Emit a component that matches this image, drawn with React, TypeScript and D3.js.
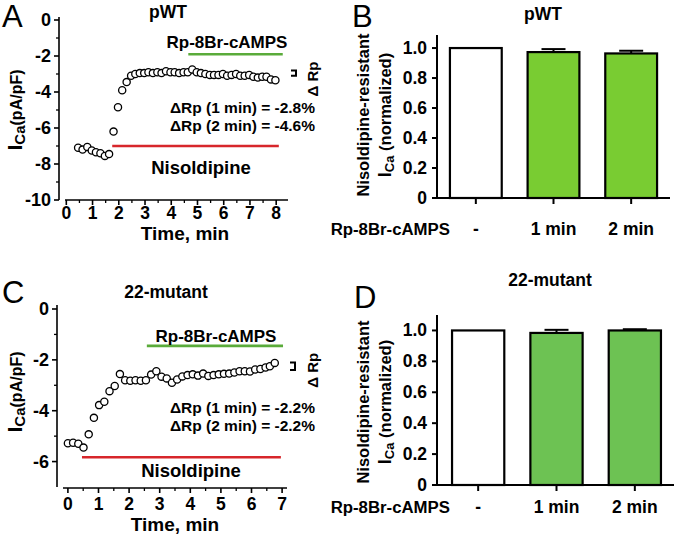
import React, { useEffect, useRef } from "react";
import * as d3 from "d3";

// ---------- DATA ----------
const timeA = [0.45, 0.62, 0.8, 0.97, 1.13, 1.3, 1.47, 1.63, 1.8, 1.97, 2.13, 2.3, 2.47, 2.63, 2.8, 2.97, 3.13, 3.3, 3.47, 3.63, 3.8, 3.97, 4.13, 4.3, 4.47, 4.63, 4.8, 4.97, 5.13, 5.3, 5.47, 5.63, 5.8, 5.97, 6.13, 6.3, 6.47, 6.63, 6.8, 6.97, 7.13, 7.3, 7.47, 7.63, 7.8, 7.97];
const currentA = [-7.1, -7.2, -7.05, -7.25, -7.35, -7.4, -7.55, -7.45, -6.2, -4.85, -3.9, -3.45, -3.1, -3.0, -2.95, -2.95, -2.9, -2.95, -2.9, -2.95, -2.85, -2.9, -2.9, -2.95, -2.9, -2.9, -2.75, -2.9, -2.95, -3.0, -3.05, -3.05, -3.05, -3.0, -3.1, -3.05, -3.0, -3.1, -3.1, -3.05, -3.15, -3.2, -3.15, -3.15, -3.3, -3.35];
const nisoA = [1.75, 8.1];
const nisoLevelA = -7.0;
const rpA = [4.65, 8.25];
const rpLevelA = -1.9;
const bracketA = [-2.8, -3.1];

const timeC = [0, 0.17, 0.34, 0.51, 0.68, 0.85, 1.02, 1.19, 1.36, 1.53, 1.7, 1.87, 2.04, 2.21, 2.38, 2.55, 2.72, 2.89, 3.06, 3.23, 3.4, 3.57, 3.74, 3.91, 4.08, 4.25, 4.42, 4.59, 4.76, 4.93, 5.1, 5.27, 5.44, 5.61, 5.78, 5.95, 6.12, 6.29, 6.46, 6.6, 6.76];
const currentC = [-5.28, -5.26, -5.3, -5.45, -4.93, -4.28, -3.78, -3.65, -3.23, -3.03, -2.56, -2.8, -2.82, -2.8, -2.82, -2.8, -2.58, -2.45, -2.66, -2.73, -2.9, -2.77, -2.65, -2.6, -2.57, -2.62, -2.54, -2.63, -2.6, -2.57, -2.55, -2.54, -2.5, -2.45, -2.45, -2.46, -2.38, -2.36, -2.3, -2.25, -2.12];
const nisoC = [0.46, 6.96];
const nisoLevelC = -5.83;
const rpC = [2.58, 7.03];
const rpLevelC = -1.45;
const bracketC = [-2.1, -2.4];

const categories = ["-", "1 min", "2 min"];
const pwtValues = [1.0, 0.973, 0.964];
const pwtErr = [0, 0.02, 0.018];
const mutValues = [1.0, 0.984, 1.0];
const mutErr = [0, 0.02, 0.008];

const xTicksA = [0, 1, 2, 3, 4, 5, 6, 7, 8];
const yTicksA = [0, -2, -4, -6, -8, -10];
const xTicksC = [0, 1, 2, 3, 4, 5, 6, 7];
const yTicksC = [0, -2, -4, -6];
const barTicks = [0, 0.2, 0.4, 0.6, 0.8, 1.0];

const textsA = ["\u0394Rp (1 min) = -2.8%", "\u0394Rp (2 min) = -4.6%"];
const textsC = ["\u0394Rp (1 min) = -2.2%", "\u0394Rp (2 min) = -2.2%"];

const FONT = "'Liberation Sans', Arial, Helvetica, sans-serif";
const RED = "#d7262b";
const GREEN = "#5aab3a";

type G = d3.Selection<SVGGElement, unknown, null, undefined>;

function txt(g: G, x: number, y: number, s: string, size: number, anchor = "middle", weight = "bold") {
  return g.append("text").attr("x", x).attr("y", y).attr("text-anchor", anchor)
    .attr("font-family", FONT).attr("font-size", size).attr("font-weight", weight).attr("fill", "#000").text(s);
}

function ylabelICa(g: G, x: number, y: number, rest: string) {
  const t = g.append("text").attr("transform", `translate(${x},${y}) rotate(-90)`)
    .attr("text-anchor", "middle").attr("font-family", FONT).attr("font-weight", "bold").attr("fill", "#000");
  t.append("tspan").attr("font-size", 21).text("I");
  t.append("tspan").attr("font-size", 15).attr("dy", 3).text("Ca");
  t.append("tspan").attr("font-size", 16).attr("dy", -3).text(rest);
  return t;
}

interface TraceCfg {
  time: number[]; cur: number[]; xDom: [number, number]; xRange: [number, number];
  yDom: [number, number]; yRange: [number, number]; yAxisX: number; xAxisY: number; yAxisTop: number;
  xTicks: number[]; yTicks: number[]; yMinor: number[]; xMax: number;
  niso: number[]; nisoLevel: number; rp: number[]; rpLevel: number; bracket: number[];
  texts: string[]; textY: number[]; nisoTextY: number; nisoTextX: number; rpTextX: number; rpTextY: number;
  title: string; titleX: number; titleY: number; letter: string; letterY: number;
  xTickLabelY: number; timeX: number; timeY: number; ylabX: number; ylabY: number; deltaY: number;
}

function drawTrace(root: G, c: TraceCfg) {
  const g = root.append("g");
  const x = d3.scaleLinear().domain(c.xDom).range(c.xRange);
  const y = d3.scaleLinear().domain(c.yDom).range(c.yRange);
  const stroke = "#000";
  // y axis
  g.append("line").attr("x1", c.yAxisX).attr("x2", c.yAxisX).attr("y1", c.yAxisTop).attr("y2", y(c.yDom[0])).attr("stroke", stroke).attr("stroke-width", 1.6);
  c.yTicks.forEach(v => {
    g.append("line").attr("x1", c.yAxisX - 5).attr("x2", c.yAxisX).attr("y1", y(v)).attr("y2", y(v)).attr("stroke", stroke).attr("stroke-width", 1.6);
    txt(g, c.yAxisX - 8, y(v) + 6, String(v), 18, "end");
  });
  c.yMinor.forEach(v => {
    g.append("line").attr("x1", c.yAxisX - 3).attr("x2", c.yAxisX).attr("y1", y(v)).attr("y2", y(v)).attr("stroke", stroke).attr("stroke-width", 1.3);
  });
  // x axis
  g.append("line").attr("x1", c.xRange[0]).attr("x2", c.xRange[1]).attr("y1", c.xAxisY).attr("y2", c.xAxisY).attr("stroke", stroke).attr("stroke-width", 1.6);
  c.xTicks.forEach(v => {
    g.append("line").attr("x1", x(v)).attr("x2", x(v)).attr("y1", c.xAxisY).attr("y2", c.xAxisY + 5).attr("stroke", stroke).attr("stroke-width", 1.6);
    txt(g, x(v), c.xTickLabelY, String(v), 17.5);
  });
  d3.range(0.5, c.xMax, 1).forEach(v => {
    g.append("line").attr("x1", x(v)).attr("x2", x(v)).attr("y1", c.xAxisY).attr("y2", c.xAxisY + 3).attr("stroke", stroke).attr("stroke-width", 1.3);
  });
  txt(g, c.timeX, c.timeY, "Time, min", 19);
  ylabelICa(g, c.ylabX, c.ylabY, "(pA/pF)");
  // lines
  g.append("line").attr("x1", x(c.niso[0])).attr("x2", x(c.niso[1])).attr("y1", y(c.nisoLevel)).attr("y2", y(c.nisoLevel)).attr("stroke", RED).attr("stroke-width", 2.6);
  g.append("line").attr("x1", x(c.rp[0])).attr("x2", x(c.rp[1])).attr("y1", y(c.rpLevel)).attr("y2", y(c.rpLevel)).attr("stroke", GREEN).attr("stroke-width", 2.6);
  // points
  g.selectAll("circle.pt").data(c.time.map((t, i) => [t, c.cur[i]])).enter().append("circle")
    .attr("cx", d => x(d[0])).attr("cy", d => y(d[1])).attr("r", 3.6)
    .attr("fill", "#fff").attr("stroke", "#000").attr("stroke-width", 1.3);
  // bracket
  const bx = c.xRange[1] + 3;
  const bp = d3.path();
  bp.moveTo(bx, y(c.bracket[0])); bp.lineTo(bx + 5, y(c.bracket[0])); bp.lineTo(bx + 5, y(c.bracket[1])); bp.lineTo(bx, y(c.bracket[1]));
  g.append("path").attr("d", bp.toString()).attr("fill", "none").attr("stroke", "#000").attr("stroke-width", 2);
  const my = (y(c.bracket[0]) + y(c.bracket[1])) / 2 + c.deltaY;
  g.append("text").attr("transform", `translate(318,${my}) rotate(-90)`).attr("text-anchor", "middle")
    .attr("font-family", FONT).attr("font-size", 15).attr("font-weight", "bold").text("\u0394 Rp");
  // texts
  c.texts.forEach((s, i) => txt(g, 315, c.textY[i], s, 15.5, "end"));
  txt(g, c.nisoTextX, c.nisoTextY, "Nisoldipine", 18.5);
  txt(g, c.rpTextX, c.rpTextY, "Rp-8Br-cAMPS", 17);
  txt(g, c.titleX, c.titleY, c.title, 17.5);
  txt(g, 2, c.letterY, c.letter, 31, "start", "normal");
}

interface BarCfg {
  values: number[]; errs: number[]; xRange: [number, number]; axisX: number; y0: number; yTop: number; yMax: number;
  color: string; title: string; titleX: number; titleY: number; letter: string; letterX: number; letterY: number;
  catY: number; ylabY: number;
}

function drawBars(root: G, c: BarCfg) {
  const g = root.append("g");
  const x = d3.scaleBand<string>().domain(categories).range(c.xRange).paddingInner(0.333).paddingOuter(0.1665);
  const y = d3.scaleLinear().domain([0, c.yMax]).range([c.y0, c.yTop]);
  // bars
  categories.forEach((cat, i) => {
    const x0 = x(cat)!;
    g.append("rect").attr("x", x0).attr("y", y(c.values[i])).attr("width", x.bandwidth()).attr("height", y(0) - y(c.values[i]))
      .attr("fill", i === 0 ? "#fff" : c.color).attr("stroke", "#000").attr("stroke-width", 2.2);
    if (c.errs[i] > 0) {
      const cx = x0 + x.bandwidth() / 2;
      g.append("line").attr("x1", cx).attr("x2", cx).attr("y1", y(c.values[i])).attr("y2", y(c.values[i] + c.errs[i])).attr("stroke", "#000").attr("stroke-width", 2);
      g.append("line").attr("x1", cx - 12).attr("x2", cx + 12).attr("y1", y(c.values[i] + c.errs[i])).attr("y2", y(c.values[i] + c.errs[i])).attr("stroke", "#000").attr("stroke-width", 2);
    }
    g.append("line").attr("x1", x0 + x.bandwidth() / 2).attr("x2", x0 + x.bandwidth() / 2).attr("y1", c.y0).attr("y2", c.y0 + 6).attr("stroke", "#000").attr("stroke-width", 2);
    txt(g, x0 + x.bandwidth() / 2, c.catY, cat, 17.5);
  });
  // axes
  g.append("line").attr("x1", c.axisX).attr("x2", c.axisX).attr("y1", c.yTop).attr("y2", c.y0).attr("stroke", "#000").attr("stroke-width", 2);
  g.append("line").attr("x1", c.axisX).attr("x2", c.xRange[1]).attr("y1", c.y0).attr("y2", c.y0).attr("stroke", "#000").attr("stroke-width", 2);
  barTicks.forEach(v => {
    g.append("line").attr("x1", c.axisX - 5).attr("x2", c.axisX).attr("y1", y(v)).attr("y2", y(v)).attr("stroke", "#000").attr("stroke-width", 2);
    txt(g, c.axisX - 10, y(v) + 6, v === 0 ? "0" : v.toFixed(1), 17.5, "end");
  });
  txt(g, 450, c.catY, "Rp-8Br-cAMPS", 16.8, "end");
  txt(g, c.titleX, c.titleY, c.title, 17.5);
  txt(g, c.letterX, c.letterY, c.letter, 31, "start", "normal");
  // y label
  g.append("text").attr("transform", `translate(369,${c.ylabY}) rotate(-90)`).attr("text-anchor", "middle")
    .attr("font-family", FONT).attr("font-size", 16.5).attr("font-weight", "bold").text("Nisoldipine-resistant");
  const t = g.append("text").attr("transform", `translate(391,${c.ylabY}) rotate(-90)`).attr("text-anchor", "middle")
    .attr("font-family", FONT).attr("font-weight", "bold");
  t.append("tspan").attr("font-size", 18).text("I");
  t.append("tspan").attr("font-size", 13).attr("dy", 3).text("Ca");
  t.append("tspan").attr("font-size", 16.5).attr("dy", -3).text(" (normalized)");
}

export default function App() {
  const ref = useRef<SVGSVGElement>(null);
  useEffect(() => {
    const svg = d3.select(ref.current!);
    svg.selectAll("*").remove();
    const root = svg.append("g") as unknown as G;
    drawTrace(root, {
      time: timeA, cur: currentA, xDom: [-0.05, 8.45], xRange: [65, 288], yDom: [-10, 0], yRange: [200, 20],
      yAxisX: 59, xAxisY: 200, yAxisTop: 17, xTicks: xTicksA, yTicks: yTicksA, yMinor: [-1, -3, -5, -7, -9], xMax: 8.45,
      niso: nisoA, nisoLevel: nisoLevelA, rp: rpA, rpLevel: rpLevelA, bracket: bracketA,
      texts: textsA, textY: [113, 131], nisoTextX: 201, nisoTextY: 174, rpTextX: 227, rpTextY: 48,
      title: "pWT", titleX: 168, titleY: 18, letter: "A", letterY: 27, xTickLabelY: 219, timeX: 185, timeY: 240,
      ylabX: 22, ylabY: 110, deltaY: 6,
    });
    drawTrace(root, {
      time: timeC, cur: currentC, xDom: [-0.16, 7.16], xRange: [63, 287], yDom: [-7, 0], yRange: [487, 309],
      yAxisX: 57, xAxisY: 488, yAxisTop: 305, xTicks: xTicksC, yTicks: yTicksC, yMinor: [-1, -3, -5], xMax: 7.16,
      niso: nisoC, nisoLevel: nisoLevelC, rp: rpC, rpLevel: rpLevelC, bracket: bracketC,
      texts: textsC, textY: [413, 431], nisoTextX: 191, nisoTextY: 477, rpTextX: 216, rpTextY: 342,
      title: "22-mutant", titleX: 166, titleY: 298, letter: "C", letterY: 303, xTickLabelY: 510, timeX: 175, timeY: 531,
      ylabX: 22, ylabY: 392, deltaY: 4,
    });
    drawBars(root, {
      values: pwtValues, errs: pwtErr, xRange: [437, 670], axisX: 437, y0: 198, yTop: 35, yMax: 1.087,
      color: "#79cc32", title: "pWT", titleX: 543, titleY: 20, letter: "B", letterX: 352, letterY: 27, catY: 235, ylabY: 115,
    });
    drawBars(root, {
      values: mutValues, errs: mutErr, xRange: [439, 674], axisX: 437, y0: 485, yTop: 315, yMax: 1.1,
      color: "#6dc253", title: "22-mutant", titleX: 550, titleY: 286, letter: "D", letterX: 354, letterY: 308, catY: 513, ylabY: 402,
    });
  }, []);
  return (
    <div style={{ position: "fixed", left: 0, top: 0 }}>
      <svg ref={ref} width={677} height={537} style={{ display: "block", background: "#fff" }} />
    </div>
  );
}
